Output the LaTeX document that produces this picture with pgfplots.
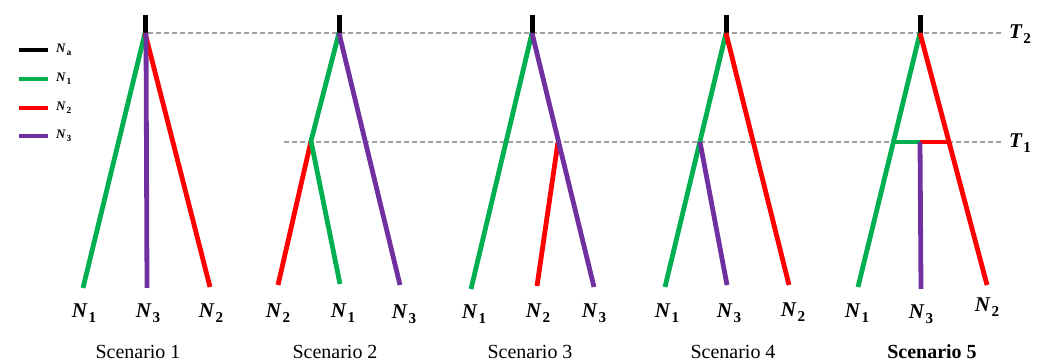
\documentclass[border=0pt]{standalone}
\usepackage{pgfplots}
\pgfplotsset{compat=1.18}
\usepackage{fontspec}
\setmainfont{Liberation Serif}
\definecolor{cg}{RGB}{0,176,80}
\definecolor{cr}{RGB}{255,0,0}
\definecolor{cp}{RGB}{112,48,160}
\definecolor{cd}{RGB}{160,160,160}
\makeatletter
\newcommand{\subx}[1]{\raisebox{-0.22em}{\fontsize{\dimexpr0.72\dimexpr\f@size pt\relax\relax}{1em}\selectfont\textbf{#1}}}
\makeatother
\newcommand{\NN}[1]{\textbf{\textit{N}}\kern0.05em\subx{#1}}
\newcommand{\TT}[1]{\textbf{\textit{T}}\kern0.03em\subx{#1}}
\begin{document}
\begin{tikzpicture}
\begin{axis}[
  scale only axis, width=1040pt, height=363pt,
  xmin=0, xmax=1040, ymin=-363, ymax=0,
  hide axis, clip=false,
  every axis plot/.append style={no marks, line cap=butt, line join=round},
]
% dashed time lines
\addplot[color=cd, line width=1.3pt, dash pattern=on 5pt off 3pt] coordinates {(148,-33) (1003,-33)};
\addplot[color=cd, line width=1.3pt, dash pattern=on 5pt off 3pt] coordinates {(284,-142) (1003,-142)};
% black stems
\addplot[black, line width=5pt] coordinates {(145,-15) (145,-33)};
\addplot[black, line width=5pt] coordinates {(339,-15) (339,-33)};
\addplot[black, line width=5pt] coordinates {(532,-15) (532,-33)};
\addplot[black, line width=5pt] coordinates {(726,-15) (726,-33)};
\addplot[black, line width=5pt] coordinates {(920,-15) (920,-33)};
% Scenario 1
\addplot[cg, line width=4.8pt] coordinates {(145,-33) (83,-288)};
\addplot[cr, line width=4.8pt] coordinates {(145,-33) (210,-287)};
\addplot[cp, line width=4.8pt] coordinates {(146,-33) (147,-288)};
% Scenario 2
\addplot[cr, line width=4.8pt] coordinates {(311,-141) (278,-285)};
\addplot[cg, line width=4.8pt] coordinates {(339,-33) (311,-141) (340,-284)};
\addplot[cp, line width=4.8pt] coordinates {(339,-33) (400,-285)};
% Scenario 3
\addplot[cg, line width=4.8pt] coordinates {(532,-33) (471,-289)};
\addplot[cr, line width=4.8pt] coordinates {(558,-142) (537,-286)};
\addplot[cp, line width=4.8pt] coordinates {(532,-33) (594,-287)};
% Scenario 4
\addplot[cg, line width=4.8pt] coordinates {(726,-33) (665,-287)};
\addplot[cp, line width=4.8pt] coordinates {(700,-142) (727,-285)};
\addplot[cr, line width=4.8pt] coordinates {(726,-33) (789,-285)};
% Scenario 5
\addplot[cg, line width=4.8pt] coordinates {(920,-33) (858,-287)};
\addplot[cr, line width=4.8pt] coordinates {(920,-33) (987,-285)};
\addplot[cg, line width=4.8pt] coordinates {(894,-142) (920,-142)};
\addplot[cr, line width=4.8pt] coordinates {(920,-142) (949,-142)};
\addplot[cp, line width=4.8pt] coordinates {(920,-142) (921,-289)};
% legend lines
\addplot[black, line width=3.8pt] coordinates {(19,-50) (48,-50)};
\addplot[cg, line width=3.8pt] coordinates {(19,-79) (48,-79)};
\addplot[cr, line width=3.8pt] coordinates {(19,-108) (48,-108)};
\addplot[cp, line width=3.8pt] coordinates {(19,-136) (48,-136)};
% legend labels
\begin{scope}[every node/.style={anchor=west, inner sep=0pt, font=\fontsize{13}{15}\selectfont}]
\node at (axis cs:56,-50) {\NN{a}};
\node at (axis cs:56,-79) {\NN{1}};
\node at (axis cs:56,-108) {\NN{2}};
\node at (axis cs:56,-136) {\NN{3}};
\end{scope}
% T labels
\begin{scope}[every node/.style={inner sep=0pt, font=\fontsize{21}{24}\selectfont}]
\node at (axis cs:1020,-34) {\TT{2}};
\node at (axis cs:1020,-143) {\TT{1}};
\end{scope}
% leaf labels
\begin{scope}[every node/.style={inner sep=0pt, font=\fontsize{21}{24}\selectfont}]
\node at (axis cs:84,-313) {\NN{1}};
\node at (axis cs:148,-313) {\NN{3}};
\node at (axis cs:211,-313) {\NN{2}};
\node at (axis cs:278,-313) {\NN{2}};
\node at (axis cs:343,-313) {\NN{1}};
\node at (axis cs:404,-314) {\NN{3}};
\node at (axis cs:474,-314) {\NN{1}};
\node at (axis cs:538,-313) {\NN{2}};
\node at (axis cs:594,-313) {\NN{3}};
\node at (axis cs:667,-313) {\NN{1}};
\node at (axis cs:729,-313) {\NN{3}};
\node at (axis cs:793,-312) {\NN{2}};
\node at (axis cs:857,-313) {\NN{1}};
\node at (axis cs:921,-314) {\NN{3}};
\node at (axis cs:987,-307) {\NN{2}};
\end{scope}
% scenario labels
\begin{scope}[every node/.style={inner sep=0pt, font=\fontsize{20}{24}\selectfont}]
\node at (axis cs:138,-352) {Scenario 1};
\node at (axis cs:335,-352) {Scenario 2};
\node at (axis cs:530,-352) {Scenario 3};
\node at (axis cs:733,-352) {Scenario 4};
\node at (axis cs:932,-352) {\textbf{Scenario 5}};
\end{scope}
\end{axis}
\pgfresetboundingbox
\path (current axis.south west) rectangle (current axis.north east);
\end{tikzpicture}
\end{document}
